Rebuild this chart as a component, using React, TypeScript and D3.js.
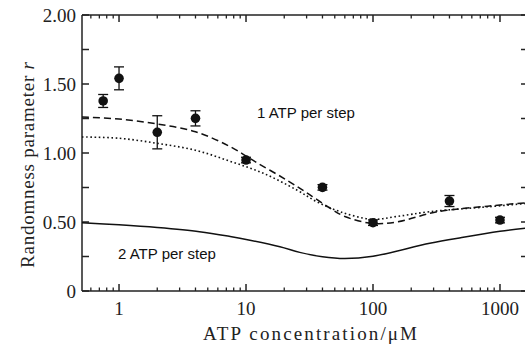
import * as d3 from "d3";

// measured points
const conc = [0.75, 1, 2, 4, 10, 40, 100, 400, 1000];
const randomness = [1.377, 1.541, 1.15, 1.251, 0.949, 0.751, 0.495, 0.652, 0.514];
const errors = [0.047, 0.083, 0.12, 0.055, 0.02, 0.02, 0.02, 0.04, 0.02];

// model curves
const oneAtpConc = [0.511, 1, 2, 4, 7.5, 11.8, 20.9, 31.9, 45.9, 60, 98.5, 154, 281, 381, 800, 1630];
const oneAtpR = [1.26, 1.246, 1.21, 1.154, 1.046, 0.937, 0.804, 0.696, 0.6, 0.54, 0.49, 0.5, 0.563, 0.585, 0.615, 0.64];

const oneAtpAltConc = [0.511, 1, 2, 4, 7.5, 13.7, 25.1, 36.1, 55, 98, 154, 281, 800, 1630];
const oneAtpAltR = [1.116, 1.107, 1.07, 1.02, 0.94, 0.853, 0.732, 0.647, 0.575, 0.52, 0.54, 0.575, 0.61, 0.635];

const twoAtpConc = [0.511, 1, 2, 4.3, 7.5, 10.5, 18.5, 26.5, 40, 60, 100, 280, 500, 1000, 1630];
const twoAtpR = [0.495, 0.48, 0.46, 0.43, 0.395, 0.37, 0.32, 0.28, 0.248, 0.235, 0.252, 0.346, 0.388, 0.433, 0.457];

const yTicks = [0, 0.25, 0.5, 0.75, 1, 1.25, 1.5, 1.75, 2];
const yLabels = ["0", "0.50", "1.00", "1.50", "2.00"];
const xMajor = [1, 10, 100, 1000];

const SERIF = "'Liberation Serif', 'Times New Roman', serif";
const SANS = "'Liberation Sans', Arial, sans-serif";

export default function App() {
    const width = 525;
    const height = 347;
    const left = 82;
    const right = 527;
    const top = 15;
    const bottom = 291;

    const xScale = d3.scaleLog().domain([0.511, 1632]).range([left, right]);
    const yScale = d3.scaleLinear().domain([0, 2]).range([bottom, top]);

    const minor: number[] = [];
    for (const base of [0.1, 1, 10, 100, 1000]) {
        for (let k = 2; k <= 9; k++) {
            const v = base * k;
            if (v > 0.511 && v < 1632) minor.push(v);
        }
    }

    const line = d3
        .line<[number, number]>()
        .x((d) => xScale(d[0]))
        .y((d) => yScale(d[1]))
        .curve(d3.curveCatmullRom.alpha(0.5));

    const zip = (a: number[], b: number[]) => a.map((v, i) => [v, b[i]] as [number, number]);

    const axisColor = "#222";

    return (
        <svg width={width} height={height} style={{ position: "absolute", left: 0, top: 0, background: "white" }}>
            {/* frame */}
            <line x1={left} x2={left} y1={top} y2={bottom} stroke={axisColor} strokeWidth={1.5} />
            <line x1={left} x2={right} y1={bottom} y2={bottom} stroke={axisColor} strokeWidth={1.5} />
            <line x1={left} x2={right} y1={top} y2={top} stroke={axisColor} strokeWidth={1.5} />

            {/* x ticks */}
            {xMajor.map((v) => (
                <g key={"xm" + v}>
                    <line x1={xScale(v)} x2={xScale(v)} y1={bottom} y2={bottom - 7} stroke={axisColor} strokeWidth={1.5} />
                    <line x1={xScale(v)} x2={xScale(v)} y1={top} y2={top + 7} stroke={axisColor} strokeWidth={1.5} />
                    <text x={xScale(v)} y={315} textAnchor="middle" fontFamily={SERIF} fontSize={19} fill="#222">
                        {v}
                    </text>
                </g>
            ))}
            {minor.map((v) => (
                <g key={"xn" + v}>
                    <line x1={xScale(v)} x2={xScale(v)} y1={bottom} y2={bottom - 3.5} stroke={axisColor} strokeWidth={1.3} />
                    <line x1={xScale(v)} x2={xScale(v)} y1={top} y2={top + 3.5} stroke={axisColor} strokeWidth={1.3} />
                </g>
            ))}

            {/* y ticks */}
            {yTicks.map((v) => (
                <g key={"y" + v}>
                    <line x1={left} x2={left + 7} y1={yScale(v)} y2={yScale(v)} stroke={axisColor} strokeWidth={1.5} />
                    <line x1={right - 6} x2={right - 2} y1={yScale(v)} y2={yScale(v)} stroke={axisColor} strokeWidth={1.5} />
                </g>
            ))}
            {yLabels.map((s) => (
                <text key={s} x={76} y={yScale(+s) + 6.5} textAnchor="end" fontFamily={SERIF} fontSize={19} fill="#222">
                    {s}
                </text>
            ))}

            {/* axis titles */}
            <text x={310} y={340} textAnchor="middle" fontFamily={SERIF} fontSize={19} fill="#222" textLength={214} lengthAdjust="spacing">
                ATP concentration/μM
            </text>
            <text
                transform="translate(34,165) rotate(-90)"
                textAnchor="middle"
                fontFamily={SERIF}
                fontSize={19}
                fill="#222"
                textLength={206}
                lengthAdjust="spacing"
            >
                Randomness parameter <tspan fontStyle="italic">r</tspan>
            </text>

            {/* curves */}
            <path d={line(zip(oneAtpConc, oneAtpR)) || ""} fill="none" stroke="#111" strokeWidth={1.5} strokeDasharray="7,4" />
            <path d={line(zip(oneAtpAltConc, oneAtpAltR)) || ""} fill="none" stroke="#111" strokeWidth={1.6} strokeDasharray="1.6,2.6" />
            <path d={line(zip(twoAtpConc, twoAtpR)) || ""} fill="none" stroke="#111" strokeWidth={1.5} />

            {/* data with error bars */}
            {conc.map((c, i) => {
                const x = xScale(c);
                const y0 = yScale(randomness[i] - errors[i]);
                const y1 = yScale(randomness[i] + errors[i]);
                return (
                    <g key={"p" + i}>
                        <line x1={x} x2={x} y1={y0} y2={y1} stroke="#111" strokeWidth={1.3} />
                        <line x1={x - 5} x2={x + 5} y1={y0} y2={y0} stroke="#111" strokeWidth={1.3} />
                        <line x1={x - 5} x2={x + 5} y1={y1} y2={y1} stroke="#111" strokeWidth={1.3} />
                        <circle cx={x} cy={yScale(randomness[i])} r={4.8} fill="#111" />
                    </g>
                );
            })}

            {/* annotations */}
            <text x={257} y={118} fontFamily={SANS} fontSize={15} fill="#111">
                1 ATP per step
            </text>
            <text x={118} y={259} fontFamily={SANS} fontSize={15} fill="#111">
                2 ATP per step
            </text>
        </svg>
    );
}
